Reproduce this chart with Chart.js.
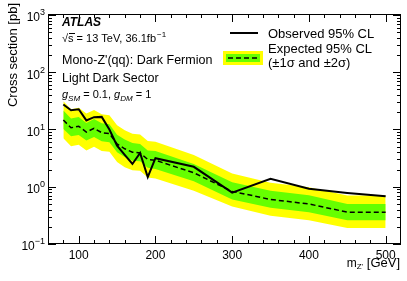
<!DOCTYPE html>
<html>
<head>
<meta charset="utf-8">
<script src="https://cdn.jsdelivr.net/npm/chart.js@4/dist/chart.umd.min.js"></script>
<style>
  html, body { margin: 0; padding: 0; background: #fff; }
  #wrap { position: relative; width: 407px; height: 281px; }
</style>
</head>
<body>
<div id="wrap"><canvas id="limitChart"></canvas></div>
<script>
// m_Z' mass points [GeV]
const masses = [80, 90, 100, 110, 120, 130, 140, 150, 160, 170, 180, 190, 200, 250, 300, 350, 400, 450, 500];
// cross section limits [pb]
const observed = [27.4, 21.7, 22.6, 14.4, 16.4, 16.6, 10.0, 5.2, 3.6, 2.5, 3.9, 1.47, 3.15, 2.23, 0.79, 1.38, 0.92, 0.78, 0.68];
const expected = [14.6, 10.7, 11.4, 9.0, 10.5, 8.8, 8.5, 5.6, 4.6, 4.0, 3.9, 3.0, 2.9, 1.75, 0.83, 0.60, 0.50, 0.36, 0.36];
const oneSigmaUp = [21.5, 15.5, 16.5, 13.0, 15.2, 12.8, 12.3, 8.1, 6.7, 5.8, 5.6, 4.3, 4.2, 2.5, 1.2, 0.85, 0.71, 0.50, 0.50];
const oneSigmaDown = [10.2, 7.6, 8.0, 6.4, 7.4, 6.2, 6.0, 4.0, 3.3, 2.85, 2.8, 2.15, 2.05, 1.25, 0.60, 0.43, 0.36, 0.26, 0.26];
const twoSigmaUp = [31, 22.5, 24, 19, 22, 18.5, 17.8, 11.8, 9.7, 8.4, 8.2, 6.3, 6.1, 3.6, 1.7, 1.18, 0.98, 0.70, 0.70];
const twoSigmaDown = [7.0, 5.1, 5.4, 4.3, 5.0, 4.2, 4.1, 2.7, 2.2, 1.95, 1.9, 1.45, 1.4, 0.85, 0.45, 0.31, 0.26, 0.19, 0.19];

const xTicks = [100, 200, 300, 400, 500];
const yTicks = [0.1, 1, 10, 100, 1000];
const yTickExp = ['\u22121', '0', '1', '2', '3'];

const FONT = "'Liberation Sans', Arial, sans-serif";
const pts = arr => arr.map((v, i) => ({ x: masses[i], y: v }));

function supText(ctx, base, sup, xRight, y, size) {
    ctx.font = `${size}px ${FONT}`;
    const wb = ctx.measureText(base).width;
    ctx.font = `${Math.round(size * 0.72)}px ${FONT}`;
    const ws = ctx.measureText(sup).width;
    ctx.textAlign = 'left';
    ctx.textBaseline = 'middle';
    ctx.font = `${size}px ${FONT}`;
    ctx.fillText(base, xRight - ws - wb, y);
    ctx.font = `${Math.round(size * 0.72)}px ${FONT}`;
    ctx.fillText(sup, xRight - ws, y - size * 0.42);
}

const atlasDecor = {
    id: 'atlasDecor',
    afterDraw(chart) {
        const { ctx, chartArea: a, scales: { x, y } } = chart;
        ctx.save();
        ctx.strokeStyle = '#000';
        ctx.lineWidth = 1;
        ctx.strokeRect(a.left + 0.5, a.top + 0.5, a.right - a.left - 1, a.bottom - a.top - 1);

        ctx.beginPath();
        for (let m = 80; m < 520; m += 20) {
            const px = Math.round(x.getPixelForValue(m)) + 0.5;
            const len = m % 100 === 0 ? 8 : 4;
            ctx.moveTo(px, a.bottom); ctx.lineTo(px, a.bottom - len);
            ctx.moveTo(px, a.top); ctx.lineTo(px, a.top + len);
        }
        for (let d = -1; d <= 3; d++) {
            for (let k = 1; k <= 9; k++) {
                const v = k * Math.pow(10, d);
                if (v > y.max || v < y.min) continue;
                const py = Math.round(y.getPixelForValue(v)) + 0.5;
                const len = k === 1 ? 8 : 4;
                ctx.moveTo(a.left, py); ctx.lineTo(a.left + len, py);
                ctx.moveTo(a.right, py); ctx.lineTo(a.right - len, py);
            }
        }
        ctx.stroke();

        ctx.fillStyle = '#000';
        yTicks.forEach((v, i) => supText(ctx, '10', yTickExp[i], 45, y.getPixelForValue(v) + 3, 12));

        // y title
        ctx.save();
        ctx.translate(13, a.top - 11);
        ctx.rotate(-Math.PI / 2);
        ctx.font = `13px ${FONT}`;
        ctx.textAlign = 'right';
        ctx.textBaseline = 'middle';
        ctx.fillText('Cross section [pb]', 0, 0);
        ctx.restore();

        // x title
        ctx.textBaseline = 'alphabetic';
        ctx.textAlign = 'right';
        ctx.font = `13px ${FONT}`;
        const unit = ' [GeV]';
        const wu = ctx.measureText(unit).width;
        ctx.fillText(unit, 400, 267);
        ctx.font = `8px ${FONT}`;
        const wz = ctx.measureText("Z'").width;
        ctx.fillText("Z'", 400 - wu, 269);
        ctx.font = `12px ${FONT}`;
        ctx.fillText('m', 400 - wu - wz, 267);

        // left labels
        ctx.textAlign = 'left';
        ctx.font = `italic bold 12px ${FONT}`;
        ctx.fillText('ATLAS', 62, 26);
        ctx.font = `11px ${FONT}`;
        ctx.fillText('\u221As = 13 TeV, 36.1fb', 62, 42);
        const wl = ctx.measureText('\u221As = 13 TeV, 36.1fb').width;
        ctx.font = `8px ${FONT}`;
        ctx.fillText('\u22121', 62 + wl + 1, 37);
        ctx.beginPath();
        ctx.moveTo(69, 33.5); ctx.lineTo(75, 33.5);
        ctx.stroke();
        ctx.font = `12.5px ${FONT}`;
        ctx.fillText("Mono-Z'(qq): Dark Fermion", 62, 64);
        ctx.fillText('Light Dark Sector', 62, 82);

        let gx = 62;
        const gPart = (txt, sub, tail) => {
            ctx.font = `italic 11px ${FONT}`;
            ctx.fillText(txt, gx, 98); gx += ctx.measureText(txt).width;
            ctx.font = `italic 8px ${FONT}`;
            ctx.fillText(sub, gx, 101); gx += ctx.measureText(sub).width;
            ctx.font = `11px ${FONT}`;
            ctx.fillText(tail, gx, 98); gx += ctx.measureText(tail).width;
        };
        gPart('g', 'SM', ' = 0.1, ');
        gPart('g', 'DM', ' = 1');

        // legend
        ctx.lineWidth = 2;
        ctx.beginPath();
        ctx.moveTo(230, 33); ctx.lineTo(258, 33);
        ctx.stroke();
        ctx.fillStyle = '#ffff00';
        ctx.fillRect(223, 51, 40, 14);
        ctx.fillStyle = '#66ff00';
        ctx.fillRect(226, 54, 34, 8);
        ctx.lineWidth = 1.5;
        ctx.setLineDash([5, 3]);
        ctx.beginPath();
        ctx.moveTo(228, 58); ctx.lineTo(259, 58);
        ctx.stroke();
        ctx.setLineDash([]);
        ctx.fillStyle = '#000';
        ctx.font = `13px ${FONT}`;
        ctx.fillText('Observed 95% CL', 268, 38);
        ctx.fillText('Expected 95% CL', 268, 53);
        ctx.fillText('(\u00B11\u03C3 and \u00B12\u03C3)', 268, 67);
        ctx.restore();
    }
};

new Chart(document.getElementById('limitChart'), {
    type: 'line',
    data: {
        datasets: [
            { label: 'Observed 95% CL', data: pts(observed), borderColor: '#000', borderWidth: 2, pointRadius: 0, fill: false },
            { label: 'Expected 95% CL', data: pts(expected), borderColor: '#000', borderWidth: 1.5, borderDash: [5, 3], pointRadius: 0, fill: false },
            { label: '+1 sigma', data: pts(oneSigmaUp), borderWidth: 0, pointRadius: 0, backgroundColor: '#66ff00', fill: '+1' },
            { label: '-1 sigma', data: pts(oneSigmaDown), borderWidth: 0, pointRadius: 0, fill: false },
            { label: '+2 sigma', data: pts(twoSigmaUp), borderWidth: 0, pointRadius: 0, backgroundColor: '#ffff00', fill: '+1' },
            { label: '-2 sigma', data: pts(twoSigmaDown), borderWidth: 0, pointRadius: 0, fill: false }
        ]
    },
    options: {
        responsive: true,
        maintainAspectRatio: false,
        animation: false,
        layout: { padding: { top: 14, right: 6, left: 0, bottom: 0 } },
        plugins: { legend: { display: false }, tooltip: { enabled: false } },
        elements: { line: { tension: 0 } },
        scales: {
            x: {
                type: 'linear', min: 60, max: 520,
                grid: { display: false, drawTicks: false }, border: { display: false },
                afterBuildTicks: s => { s.ticks = xTicks.map(v => ({ value: v })); },
                afterFit: s => { s.height = 37; },
                ticks: { color: '#000', padding: 4, maxRotation: 0, font: { family: FONT, size: 12 } }
            },
            y: {
                type: 'logarithmic', min: 0.1, max: 1040,
                grid: { display: false, drawTicks: false }, border: { display: false },
                afterBuildTicks: s => { s.ticks = yTicks.map(v => ({ value: v })); },
                afterFit: s => { s.width = 48; },
                ticks: { display: false }
            }
        }
    },
    plugins: [atlasDecor]
});
</script>
</body>
</html>
